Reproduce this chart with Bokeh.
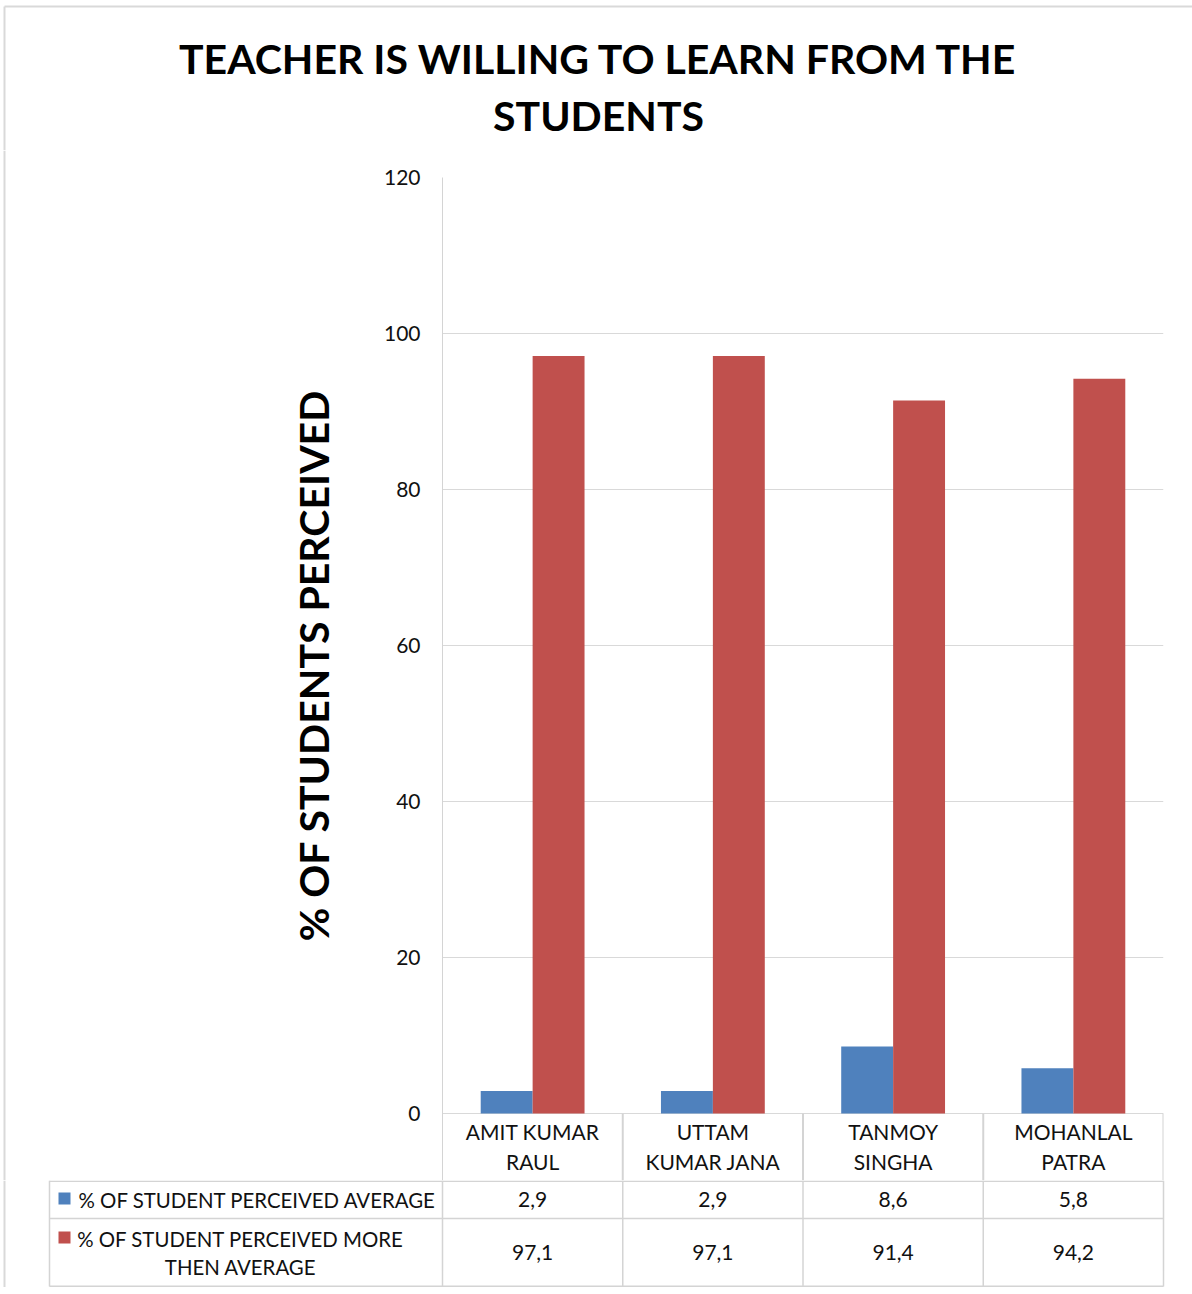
import math
from bokeh.plotting import figure
from bokeh.layouts import column, row
from bokeh.models import FactorRange, Range1d, FixedTicker, Label, ColumnDataSource
from bokeh.transform import dodge
from bokeh.core.properties import value
from bokeh.embed import file_html
from bokeh.resources import INLINE

# ---------------- data ----------------
title_lines = ["TEACHER IS WILLING TO LEARN FROM THE", "STUDENTS"]
y_title = "% OF STUDENTS PERCEIVED"
categories = ["AMIT KUMAR RAUL", "UTTAM KUMAR JANA", "TANMOY SINGHA", "MOHANLAL PATRA"]
category_labels = ["AMIT KUMAR\nRAUL", "UTTAM\nKUMAR JANA", "TANMOY\nSINGHA", "MOHANLAL\nPATRA"]
series_label_lines = [["% OF STUDENT PERCEIVED AVERAGE"],
                      ["% OF STUDENT PERCEIVED MORE", "THEN AVERAGE"]]
average = [2.9, 2.9, 8.6, 5.8]
more_than_average = [97.1, 97.1, 91.4, 94.2]
y_ticks = [0, 20, 40, 60, 80, 100, 120]

# ---------------- layout (page-pixel geometry) ----------------
W = 1192
AX_X = 442            # x of value axis
RIGHT_X = 1163        # right edge of plot / table
COL = (RIGHT_X - AX_X) / 4.0
LEFT_W = 360          # width of the strip holding the value-axis title
TITLE_BOTTOM = 150    # title strip: 0..150
PLOT_TOP = 177        # value 120
ZERO_Y = 1113         # value 0
HEAD_BOTTOM = 1180    # bottom of category header row
ROW_SPLIT = 1218
TABLE_BOTTOM = 1287
PX_PER_UNIT = (ZERO_Y - PLOT_TOP) / 120.0
FRAME_X, FRAME_Y = 4, 6   # outer chart-area border

FONT = "Lato"
TXT = "#111111"
LINE = "#d4d4d4"
OUTER = "#d9d9d9"
BLUE = "#4F81BD"
RED = "#C0504D"
SMALL = "21px"
TABLE_FS = "20.4px"

def bare(fig):
    fig.xaxis.visible = False
    fig.yaxis.visible = False
    fig.xgrid.visible = False
    fig.ygrid.visible = False
    fig.outline_line_color = None
    fig.title.visible = False
    return fig

# ---------------- title strip ----------------
pt = bare(figure(width=W, height=TITLE_BOTTOM,
                 x_range=Range1d(0, W), y_range=Range1d(TITLE_BOTTOM, 0),
                 output_backend="svg", toolbar_location=None, min_border=0,
                 frame_align=False))
pt.segment(x0=[FRAME_X, FRAME_X], x1=[W, FRAME_X], y0=[FRAME_Y, FRAME_Y],
           y1=[FRAME_Y, TITLE_BOTTOM], line_color=OUTER, line_width=2)
for line, yref in zip(title_lines, (58, 115)):
    pt.add_layout(Label(x=598, y=yref, text=line, text_align="center", text_baseline="middle",
                        text_font=FONT, text_font_size="41px", text_font_style="bold",
                        text_color="black"))

# ---------------- value-axis title strip ----------------
pl = bare(figure(width=LEFT_W, height=HEAD_BOTTOM - TITLE_BOTTOM,
                 x_range=Range1d(0, LEFT_W), y_range=Range1d(HEAD_BOTTOM, TITLE_BOTTOM),
                 output_backend="svg", toolbar_location=None, min_border=0,
                 frame_align=False))
pl.segment(x0=[FRAME_X], x1=[FRAME_X], y0=[TITLE_BOTTOM], y1=[HEAD_BOTTOM],
           line_color=OUTER, line_width=2)
pl.add_layout(Label(x=313, y=665, text=y_title, angle=math.pi / 2, text_align="center",
                    text_baseline="middle", text_font=FONT, text_font_size="41px",
                    text_font_style="bold", text_color="black"))

# ---------------- main chart (bars + category header row) ----------------
ymin = -(HEAD_BOTTOM - ZERO_Y) / PX_PER_UNIT
p = figure(width=W - LEFT_W, height=HEAD_BOTTOM - TITLE_BOTTOM,
           x_range=FactorRange(factors=categories, range_padding=0),
           y_range=Range1d(ymin, 120),
           output_backend="svg", toolbar_location=None, frame_align=False,
           min_border_left=AX_X - LEFT_W, min_border_right=W - RIGHT_X,
           min_border_top=PLOT_TOP - TITLE_BOTTOM, min_border_bottom=0)
p.outline_line_color = None
p.title.visible = False
p.xaxis.visible = False
p.xgrid.visible = False
p.yaxis.ticker = FixedTicker(ticks=y_ticks)
p.ygrid.ticker = FixedTicker(ticks=y_ticks)
p.ygrid.grid_line_color = "#d9d9d9"
p.yaxis.axis_line_color = LINE
p.yaxis.major_tick_line_color = None
p.yaxis.minor_tick_line_color = None
p.yaxis.major_tick_out = 0
p.yaxis.major_tick_in = 0
p.yaxis.major_label_standoff = 22
p.yaxis.major_label_text_font = FONT
p.yaxis.major_label_text_font_size = SMALL
p.yaxis.major_label_text_color = TXT

src = ColumnDataSource(dict(
    cat=categories, label=category_labels, avg=average, more=more_than_average,
))

BW = 0.288
p.vbar(x=dodge("cat", -BW / 2, range=p.x_range), top="avg", width=BW, source=src,
       fill_color=BLUE, line_color=None)
p.vbar(x=dodge("cat", BW / 2, range=p.x_range), top="more", width=BW, source=src,
       fill_color=RED, line_color=None)

# header row: column separators and category names
p.segment(x0=dodge("cat", 0.5, range=p.x_range), x1=dodge("cat", 0.5, range=p.x_range),
          y0=0, y1=ymin, source=src, line_color=LINE, line_width=2)
p.text(x="cat", y=(ZERO_Y - 1146) / PX_PER_UNIT, text="label", source=src,
       text_align="center", text_baseline="middle", text_font=value(FONT),
       text_font_size=SMALL, text_color=TXT, text_line_height=1.18)

# ---------------- data table rows ----------------
ptab = bare(figure(width=W, height=TABLE_BOTTOM - HEAD_BOTTOM,
                   x_range=Range1d(-AX_X / COL, (W - AX_X) / COL),
                   y_range=Range1d(TABLE_BOTTOM, HEAD_BOTTOM),
                   output_backend="svg", toolbar_location=None, min_border=0,
                   frame_align=False))
n = len(categories)
left_u = (49 - AX_X) / COL
outer_u = (FRAME_X - AX_X) / COL
ptab.segment(x0=[outer_u], x1=[outer_u], y0=[HEAD_BOTTOM], y1=[TABLE_BOTTOM],
             line_color=OUTER, line_width=2)
h_y = [HEAD_BOTTOM + 0.75, ROW_SPLIT, TABLE_BOTTOM - 1.25]
ptab.segment(x0=[left_u] * 3, x1=[n] * 3, y0=h_y, y1=h_y, line_color=LINE, line_width=1.5)
v_x = [left_u] + list(range(n + 1))
ptab.segment(x0=v_x, x1=v_x, y0=[HEAD_BOTTOM] * len(v_x), y1=[TABLE_BOTTOM - 1] * len(v_x),
             line_color=LINE, line_width=1.5)

centers = [i + 0.5 for i in range(n)]
tsrc = ColumnDataSource(dict(
    x=centers,
    avg_txt=[f"{v:.1f}".replace(".", ",") for v in average],
    more_txt=[f"{v:.1f}".replace(".", ",") for v in more_than_average],
))
ptab.text(x="x", y=1199, text="avg_txt", source=tsrc, text_align="center",
          text_baseline="middle", text_font=value(FONT), text_font_size=SMALL, text_color=TXT)
ptab.text(x="x", y=1252, text="more_txt", source=tsrc, text_align="center",
          text_baseline="middle", text_font=value(FONT), text_font_size=SMALL, text_color=TXT)

# legend keys + series names
key_w = 12 / COL
ptab.rect(x=[(64 - AX_X) / COL] * 2, y=[1198, 1237], width=key_w, height=12,
          fill_color=[BLUE, RED], line_color=None)
ptab.text(x=[(78 - AX_X) / COL], y=[1199], text=series_label_lines[0], text_align="left",
          text_baseline="middle", text_font=value(FONT), text_font_size=TABLE_FS, text_color=TXT)
ptab.text(x=[(240 - AX_X) / COL] * 2, y=[1238, 1266], text=series_label_lines[1],
          text_align="center", text_baseline="middle", text_font=value(FONT),
          text_font_size=TABLE_FS, text_color=TXT)

layout = column(pt, row(pl, p, spacing=0), ptab, spacing=0)
open("out.html", "w").write(file_html(layout, INLINE))
